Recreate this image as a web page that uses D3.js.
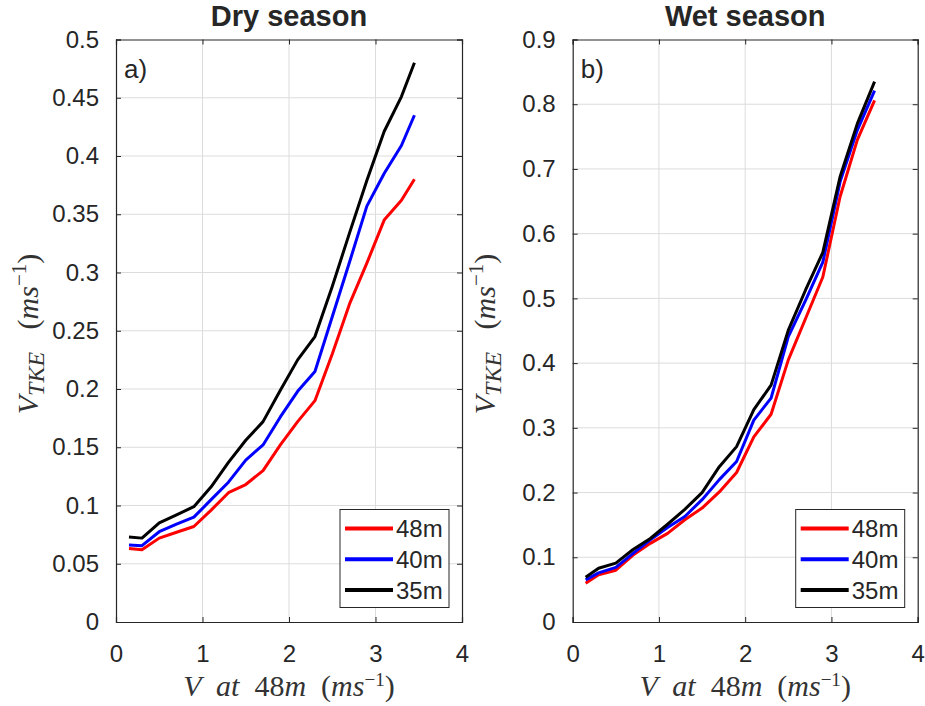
<!DOCTYPE html>
<html>
<head>
<meta charset="utf-8">
<script src="https://cdn.jsdelivr.net/npm/d3@7"></script>
<style>
  body { margin: 0; background: #fff; }
  text { font-family: "Liberation Sans", Arial, Helvetica, sans-serif; fill: #262626; }
  .lbl { font-family: "Liberation Serif", "DejaVu Serif", serif; font-size: 30px; fill: #333; white-space: pre; }
</style>
</head>
<body>
<svg id="chart" width="925" height="706"></svg>
<script>
// wind speed bins (m/s)
const dryX = [0.15, 0.3, 0.5, 0.7, 0.9, 1.1, 1.3, 1.5, 1.7, 1.9, 2.1, 2.3, 2.5, 2.7, 2.9, 3.1, 3.3, 3.45];
const dry48 = [0.063, 0.062, 0.072, 0.077, 0.082, 0.096, 0.111, 0.118, 0.130, 0.152, 0.172, 0.190, 0.230, 0.273, 0.308, 0.345, 0.362, 0.380];
const dry40 = [0.066, 0.0655, 0.0775, 0.084, 0.090, 0.105, 0.120, 0.139, 0.152, 0.176, 0.198, 0.215, 0.262, 0.309, 0.357, 0.385, 0.409, 0.435];
const dry35 = [0.073, 0.072, 0.085, 0.092, 0.099, 0.116, 0.137, 0.156, 0.172, 0.199, 0.225, 0.245, 0.288, 0.334, 0.379, 0.421, 0.451, 0.480];

const wetX = [0.15, 0.3, 0.5, 0.7, 0.9, 1.1, 1.3, 1.5, 1.7, 1.9, 2.1, 2.3, 2.5, 2.7, 2.9, 3.1, 3.3, 3.5];
const wet48 = [0.060, 0.073, 0.080, 0.1035, 0.1215, 0.137, 0.158, 0.176, 0.201, 0.231, 0.286, 0.321, 0.405, 0.469, 0.533, 0.657, 0.745, 0.806];
const wet40 = [0.065, 0.076, 0.0845, 0.106, 0.127, 0.146, 0.163, 0.189, 0.220, 0.248, 0.312, 0.346, 0.441, 0.497, 0.556, 0.680, 0.760, 0.821];
const wet35 = [0.069, 0.083, 0.091, 0.112, 0.129, 0.151, 0.174, 0.200, 0.240, 0.271, 0.328, 0.366, 0.451, 0.513, 0.571, 0.688, 0.770, 0.835];

const seriesNames = ["48m", "40m", "35m"];
const seriesColors = ["#ff0000", "#0000ff", "#000000"];
const xTicks = [0, 1, 2, 3, 4];
const dryYTicks = [0, 0.05, 0.1, 0.15, 0.2, 0.25, 0.3, 0.35, 0.4, 0.45, 0.5];
const wetYTicks = [0, 0.1, 0.2, 0.3, 0.4, 0.5, 0.6, 0.7, 0.8, 0.9];

const svg = d3.select("#chart");

function panel(opt) {
  const x = d3.scaleLinear().domain([0, 4]).range([opt.left, opt.right]);
  const y = d3.scaleLinear().domain([0, opt.ymax]).range([622, 39.5]);
  const g = svg.append("g");

  // grid
  g.selectAll(".gx").data(xTicks.slice(1, -1)).enter().append("line")
    .attr("x1", d => x(d)).attr("x2", d => x(d))
    .attr("y1", y(0)).attr("y2", y(opt.ymax))
    .attr("stroke", "#dcdcdc").attr("stroke-width", 1);
  g.selectAll(".gy").data(opt.yTicks.slice(1, -1)).enter().append("line")
    .attr("x1", x(0)).attr("x2", x(4))
    .attr("y1", d => y(d)).attr("y2", d => y(d))
    .attr("stroke", "#dcdcdc").attr("stroke-width", 1);

  // lines
  const line = d3.line().x(d => x(d[0])).y(d => y(d[1]));
  opt.series.forEach((s, i) => {
    g.append("path")
      .datum(opt.xs.map((v, j) => [v, s[j]]))
      .attr("d", line)
      .attr("fill", "none")
      .attr("stroke", seriesColors[i])
      .attr("stroke-width", 3)
      .attr("stroke-linejoin", "round");
  });

  // axes (ticks inside, box on)
  const fmt = d => String(d);
  g.append("g").attr("transform", `translate(0,${y(0)})`)
    .call(d3.axisBottom(x).tickValues(xTicks).tickSize(-5).tickPadding(23).tickFormat(fmt));
  g.append("g").attr("transform", `translate(0,${y(opt.ymax)})`)
    .call(d3.axisTop(x).tickValues(xTicks).tickSize(-5).tickFormat(""));
  g.append("g").attr("transform", `translate(${x(0)},0)`)
    .call(d3.axisLeft(y).tickValues(opt.yTicks).tickSize(-5).tickPadding(17).tickFormat(fmt));
  g.append("g").attr("transform", `translate(${x(4)},0)`)
    .call(d3.axisRight(y).tickValues(opt.yTicks).tickSize(-5).tickFormat(""));
  g.selectAll(".domain").attr("stroke", "#262626").attr("stroke-width", 1.2);
  g.selectAll(".tick line").attr("stroke", "#262626");
  g.selectAll(".tick text").attr("font-size", 24).attr("fill", "#262626")
    .style("font-family", '"Liberation Sans", Arial, sans-serif');

  // title
  g.append("text").attr("x", (opt.left + opt.right) / 2).attr("y", 26)
    .attr("text-anchor", "middle").attr("font-size", 29).attr("font-weight", "bold")
    .text(opt.title);

  // panel letter
  g.append("text").attr("x", opt.left + 8).attr("y", 78)
    .attr("font-size", 26).text(opt.letter);

  // x label
  const xl = g.append("text").attr("class", "lbl")
    .attr("x", (opt.left + opt.right) / 2).attr("y", 696).attr("text-anchor", "middle");
  xl.append("tspan").attr("font-style", "italic").text("V  at  ");
  xl.append("tspan").text("48");
  xl.append("tspan").attr("font-style", "italic").text("m");
  xl.append("tspan").text("  (");
  xl.append("tspan").attr("font-style", "italic").text("ms");
  xl.append("tspan").attr("font-size", 19).attr("dy", -10).text("−1");
  xl.append("tspan").attr("dy", 10).text(")");

  // y label
  const yl = g.append("text").attr("class", "lbl")
    .attr("font-size", 32)
    .attr("transform", `translate(${opt.left - 78},334) rotate(-90)`)
    .attr("text-anchor", "middle");
  yl.append("tspan").attr("font-style", "italic").text("V");
  yl.append("tspan").attr("font-style", "italic").attr("font-size", 24).attr("dy", 6).text("TKE");
  yl.append("tspan").attr("dy", -6).text("   (");
  yl.append("tspan").attr("font-style", "italic").text("ms");
  yl.append("tspan").attr("font-size", 21).attr("dy", -12).text("−1");
  yl.append("tspan").attr("dy", 12).text(")");

  // legend
  const lx = opt.right - 122, ly = 509.5;
  const lg = g.append("g");
  lg.append("rect").attr("x", lx).attr("y", ly).attr("width", 109).attr("height", 98)
    .attr("fill", "#fff").attr("stroke", "#262626").attr("stroke-width", 1);
  seriesNames.forEach((n, i) => {
    const yy = ly + 19 + i * 30.8;
    lg.append("line").attr("x1", lx + 5).attr("x2", lx + 53)
      .attr("y1", yy).attr("y2", yy)
      .attr("stroke", seriesColors[i]).attr("stroke-width", 4);
    lg.append("text").attr("x", lx + 56).attr("y", yy + 8.5)
      .attr("font-size", 24).text(n);
  });
}

panel({ left: 116, right: 462, ymax: 0.5, yTicks: dryYTicks, xs: dryX,
        series: [dry48, dry40, dry35], title: "Dry season", letter: "a)" });
panel({ left: 572.7, right: 917.7, ymax: 0.9, yTicks: wetYTicks, xs: wetX,
        series: [wet48, wet40, wet35], title: "Wet season", letter: "b)" });
</script>
</body>
</html>
